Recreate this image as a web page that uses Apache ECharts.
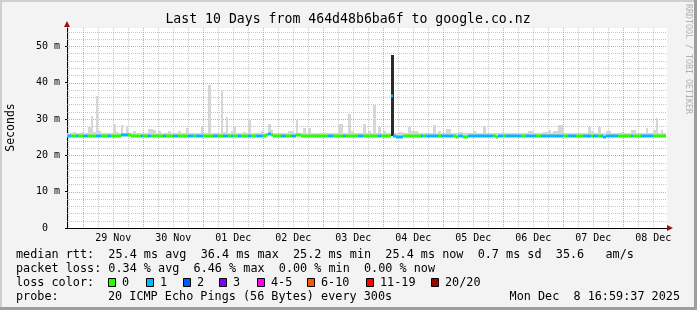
<!DOCTYPE html>
<html><head><meta charset="utf-8">
<script src="https://cdn.jsdelivr.net/npm/echarts@6/dist/echarts.min.js"></script>
<style>html,body{margin:0;padding:0;background:#f3f3f3}#c{width:697px;height:310px}</style>
</head><body><div id="c"></div>
<script>
// ---- data (hours counted from 28 Nov 00:00; one sample per hour starting 17:00) ----
const xLabels = ['29 Nov','30 Nov','01 Dec','02 Dec','03 Dec','04 Dec','05 Dec','06 Dec','07 Dec','08 Dec'];
const xLabelHours = [36,60,84,108,132,156,180,204,228,252];
const yTicks = [0,10,20,30,40,50];
const firstHour = 17;
const viewStart = 17.5, viewEnd = 257.5;

const median = [
 25.4,25.4,25.4,25.4,25.4,25.4,25.4,25.4,25.4,25.4,25.4,25.4,25.4,25.4,25.4,25.4,25.4,25.4,25.4,25.4,25.4,25.3,25.7,25.7,
 25.7,25.5,25.4,25.4,25.4,25.4,25.4,25.3,25.4,25.4,25.4,25.4,25.4,25.4,25.4,25.4,25.4,25.4,25.4,25.4,25.4,25.4,25.4,25.4,
 25.4,25.4,25.4,25.4,25.3,25.4,25.4,25.4,25.4,25.4,25.4,25.4,25.4,25.4,25.4,25.4,25.4,25.4,25.4,25.4,25.4,25.3,25.4,25.4,
 25.4,25.4,25.4,25.4,25.4,25.4,25.4,25.4,25.6,25.8,25.6,25.4,25.4,25.4,25.4,25.4,25.4,25.4,25.4,25.4,25.6,25.6,25.4,25.4,
 25.4,25.4,25.4,25.4,25.4,25.4,25.4,25.4,25.4,25.4,25.4,25.4,25.4,25.4,25.4,25.4,25.4,25.4,25.4,25.4,25.4,25.4,25.4,25.4,
 25.4,25.4,25.4,25.4,25.4,25.4,25.4,25.4,25.4,25.4,36.4,25.4,25.1,25.0,25.1,25.4,25.4,25.4,25.4,25.4,25.4,25.4,25.4,25.4,
 25.4,25.4,25.4,25.4,25.4,25.4,25.4,25.4,25.4,25.4,25.4,25.2,25.1,25.4,25.4,25.0,25.0,25.4,25.4,25.4,25.4,25.4,25.4,25.4,
 25.4,25.4,25.4,25.4,25.0,25.4,25.4,25.4,25.4,25.4,25.4,25.4,25.4,25.4,25.4,25.4,25.4,25.4,25.4,25.4,25.4,25.4,25.4,25.4,
 25.4,25.4,25.4,25.4,25.4,25.4,25.4,25.4,25.4,25.4,25.4,25.4,25.4,25.4,25.4,25.4,25.4,25.4,25.4,25.4,25.4,25.4,25.2,25.1,
 25.4,25.4,25.4,25.4,25.4,25.4,25.4,25.4,25.4,25.4,25.4,25.4,25.4,25.4,25.4,25.4,25.4,25.4,25.4,25.4,25.4,25.4,25.4,25.4
];
const smokeTop = [
 26.0,26.0,26.0,26.5,26.0,26.0,26.5,26.0,26.0,27.8,30.8,26.5,36.3,26.8,26.0,26.0,26.0,26.0,26.0,28.6,26.5,26.0,28.3,26.0,
 27.8,26.0,26.0,26.6,26.0,26.0,26.0,26.0,26.0,27.2,27.2,27.0,26.0,26.8,26.0,26.0,26.0,26.8,26.0,26.0,26.0,26.6,26.0,26.0,
 27.5,26.0,26.0,26.0,26.0,26.0,28.0,26.0,26.0,39.3,26.0,26.0,26.0,26.0,37.6,26.5,30.6,26.0,26.6,27.8,26.0,26.0,26.0,26.5,
 26.0,29.7,26.0,26.0,26.0,26.0,26.6,26.0,26.0,28.6,27.0,26.0,26.0,26.0,26.0,26.0,26.0,26.8,26.8,26.0,29.7,26.0,26.0,27.5,
 26.0,27.5,26.0,26.0,26.0,26.0,26.0,26.2,26.0,26.0,26.0,26.0,26.0,28.5,28.5,26.0,26.0,31.3,26.8,26.0,26.0,26.0,26.0,28.7,
 26.0,26.8,26.0,33.8,26.0,27.8,26.0,26.8,26.0,26.0,47.5,26.0,26.0,26.3,26.3,26.0,26.0,27.8,26.8,26.8,26.8,26.0,26.0,26.2,
 26.0,26.0,26.0,28.3,26.0,26.6,26.0,26.0,27.2,27.2,26.0,26.0,26.2,26.5,26.5,26.0,26.0,26.0,26.0,26.8,26.0,26.0,26.0,28.0,
 26.0,26.0,26.0,26.0,26.0,26.0,26.0,26.0,26.0,26.0,26.0,26.0,26.0,26.2,26.0,26.0,26.0,26.6,26.6,26.0,26.0,26.0,26.0,26.5,
 26.5,27.0,26.0,26.8,26.8,28.3,28.3,26.0,26.0,26.0,26.0,26.0,26.0,26.0,26.0,26.0,26.0,27.8,26.8,26.0,26.0,27.8,26.0,26.0,
 26.8,26.8,26.0,26.0,26.0,26.0,26.5,26.0,26.0,26.0,27.0,27.0,26.0,26.0,26.0,26.0,27.5,26.0,26.0,27.0,30.3,26.0,27.0,26.0
];
const loss = [
 0,1,0,0,1,0,0,1,1,0,0,0,1,1,0,0,0,1,0,0,0,0,1,1,
 1,0,0,0,0,0,1,0,0,1,0,0,0,0,0,1,0,0,0,1,1,0,0,0,
 0,1,1,0,1,1,1,0,0,0,0,1,1,0,0,1,1,0,1,0,0,1,0,0,
 0,1,0,0,1,1,1,0,0,1,0,0,0,0,1,1,0,0,1,1,0,0,0,0,
 0,0,0,0,0,0,0,0,0,1,1,0,0,0,0,1,0,0,0,0,0,1,1,0,
 0,0,0,0,0,1,0,0,0,0,1,1,1,1,1,0,0,0,0,0,0,0,1,0,
 1,1,1,1,1,0,1,1,1,1,1,0,0,1,1,0,0,1,1,1,1,1,1,1,
 1,1,1,0,0,1,1,0,1,1,1,1,1,1,0,0,1,1,1,1,0,0,1,1,
 1,1,1,1,1,1,1,0,0,1,1,1,0,0,0,1,1,1,0,1,1,0,1,1,
 1,1,1,1,1,0,0,0,0,0,1,0,0,0,1,1,1,1,1,0,0,0,0,0
];
const darkIdx = [130];
const darkBase = [25.3];
const darkTop = [47.5];

const lossColors = ['#26ff00','#00b8ff','#0059ff','#7e00ff','#ff00ff','#ff5500','#ff0000','#a10000'];
const lossLabels = ['0','1','2','3','4-5','6-10','11-19','20/20'];

const statsRow1 = 'median rtt:  25.4 ms avg  36.4 ms max  25.2 ms min  25.4 ms now  0.7 ms sd  35.6   am/s';
const statsRow2 = 'packet loss: 0.34 % avg  6.46 % max  0.00 % min  0.00 % now';
const probeText = '20 ICMP Echo Pings (56 Bytes) every 300s';
const stampText = 'Mon Dec  8 16:59:37 2025';
const titleText = 'Last 10 Days from 464d48b6ba6f to google.co.nz';

// ---- chart ----
const MONO = "'DejaVu Sans Mono', monospace";
const chart = echarts.init(document.getElementById('c'), null, {renderer: 'canvas'});

const gridLines = [];
for (let h = 18; h <= 257; h += 6) gridLines.push([0, h, h % 24 === 0 ? 1 : 0]);
for (let v = 2; v <= 54; v += 2) gridLines.push([1, v, v % 10 === 0 ? 1 : 0]);
gridLines.sort((a, b) => a[2] - b[2]);

const smokeData = median.map((m, i) => [firstHour + i, m, smokeTop[i]]);
const medData = median.map((m, i) => [firstHour + i, m, loss[i]]);
const darkData = darkIdx.map((k, j) => [firstHour + k, darkBase[j], darkTop[j]]);

function clip(r, cs) { return echarts.graphic.clipRectByRect(r, cs); }

const graphics = [];
graphics.push({type:'rect', shape:{x:0,y:0,width:697,height:2}, style:{fill:'#cfcfcf'}, silent:true});
graphics.push({type:'rect', shape:{x:0,y:0,width:2,height:310}, style:{fill:'#cfcfcf'}, silent:true});
graphics.push({type:'rect', shape:{x:0,y:307,width:697,height:3}, style:{fill:'#9e9e9e'}, silent:true});
graphics.push({type:'rect', shape:{x:694,y:0,width:3,height:310}, style:{fill:'#9e9e9e'}, silent:true});
graphics.push({type:'text', x:348, y:19.5, style:{text:titleText, font:"13.2px "+MONO, fill:'#000', align:'center', verticalAlign:'middle'}});
graphics.push({type:'text', x:11, y:127.5, rotation:Math.PI/2, style:{text:'Seconds', font:"11.5px "+MONO, fill:'#000', align:'center', verticalAlign:'middle'}});
graphics.push({type:'text', x:688, y:4, rotation:-Math.PI/2, style:{text:'RRDTOOL / TOBI OETIKER', font:"8.3px "+MONO, fill:'#b0b0b0', align:'left', verticalAlign:'middle'}});
graphics.push({type:'polygon', shape:{points:[[64,27],[70,27],[67,21]]}, style:{fill:'#a01010'}, z:10});
graphics.push({type:'polygon', shape:{points:[[667,225],[667,231],[673,228]]}, style:{fill:'#a01010'}, z:10});
graphics.push({type:'line', shape:{x1:667,y1:228.5,x2:668,y2:228.5}, style:{stroke:'#000',lineWidth:1}, z:9});
const FS = "11.8px " + MONO;
const rowY = [254.5, 268.5, 282.5, 296.5];
graphics.push({type:'text', x:16, y:rowY[0], style:{text:statsRow1, font:FS, fill:'#000', verticalAlign:'middle'}});
graphics.push({type:'text', x:16, y:rowY[1], style:{text:statsRow2, font:FS, fill:'#000', verticalAlign:'middle'}});
graphics.push({type:'text', x:16, y:rowY[2], style:{text:'loss color:', font:FS, fill:'#000', verticalAlign:'middle'}});
const boxX = [108, 146, 183, 219, 257, 307, 366, 431];
lossLabels.forEach((t, k) => {
  graphics.push({type:'rect', shape:{x:boxX[k]+0.5, y:278.5, width:7, height:8}, style:{fill:lossColors[k], stroke:'#000', lineWidth:1}});
  graphics.push({type:'text', x:boxX[k]+14, y:rowY[2], style:{text:t, font:FS, fill:'#000', verticalAlign:'middle'}});
});
graphics.push({type:'text', x:16, y:rowY[3], style:{text:'probe:', font:FS, fill:'#000', verticalAlign:'middle'}});
graphics.push({type:'text', x:108, y:rowY[3], style:{text:probeText, font:FS, fill:'#000', verticalAlign:'middle'}});
graphics.push({type:'text', x:680, y:rowY[3], style:{text:stampText, font:FS, fill:'#000', align:'right', verticalAlign:'middle'}});

chart.setOption({
  animation: false,
  backgroundColor: '#f3f3f3',
  grid: {left: 67, top: 28, width: 600, height: 200, show: true, backgroundColor: '#ffffff', borderWidth: 0},
  xAxis: {
    type: 'value', min: viewStart, max: viewEnd,
    axisLine: {show: true, onZero: false, lineStyle: {color: '#000', width: 1}},
    axisTick: {show: false},
    splitLine: {show: false},
    axisLabel: {customValues: xLabelHours, formatter: v => xLabels[xLabelHours.indexOf(v)] || '',
      fontFamily: 'DejaVu Sans Mono', fontSize: 10, color: '#000', margin: 5}
  },
  yAxis: {
    type: 'value', min: 0, max: 55,
    axisLine: {show: true, lineStyle: {color: '#000', width: 1}},
    axisTick: {show: true, customValues: yTicks, length: 2, lineStyle: {color: '#000'}},
    splitLine: {show: false},
    axisLabel: {customValues: yTicks, formatter: v => v === 0 ? '0  ' : v + ' m',
      fontFamily: 'DejaVu Sans Mono', fontSize: 10, color: '#000', margin: 7}
  },
  graphic: graphics,
  series: [
    {
      type: 'custom', name: 'grid', silent: true, z: 1,
      data: gridLines,
      encode: {x: 1, y: 1},
      renderItem(params, api) {
        const cs = params.coordSys;
        const kind = api.value(0), val = api.value(1), major = api.value(2);
        const color = major ? 'rgba(232,120,120,0.75)' : 'rgba(170,170,170,0.65)';
        if (kind === 0) {
          const x = Math.round(api.coord([val, 0])[0]) + 0.5;
          return {type: 'line', shape: {x1: x, y1: cs.y, x2: x, y2: cs.y + cs.height}, style: {stroke: color, lineWidth: 1, lineDash: [1, 1]}};
        }
        const y = Math.round(api.coord([viewStart, val])[1]) + 0.5;
        return {type: 'line', shape: {x1: cs.x, y1: y, x2: cs.x + cs.width, y2: y}, style: {stroke: color, lineWidth: 1, lineDash: [1, 1]}};
      }
    },
    {
      type: 'custom', name: 'smoke', silent: true, z: 2,
      data: smokeData,
      renderItem(params, api) {
        const h = api.value(0), m = api.value(1), t = api.value(2);
        const a = api.coord([h, t]), b = api.coord([h + 1, m]);
        const x0 = Math.round(a[0]), x1 = Math.round(b[0]);
        const r = clip({x: x0, y: Math.round(a[1]), width: x1 - x0, height: Math.round(b[1]) - Math.round(a[1])}, params.coordSys);
        return r ? {type: 'rect', shape: r, style: {fill: '#d6d6d6'}} : null;
      }
    },
    {
      type: 'custom', name: 'darksmoke', silent: true, z: 3,
      data: darkData,
      renderItem(params, api) {
        const h = api.value(0), lo = api.value(1), t = api.value(2);
        const a = api.coord([h, t]), b = api.coord([h + 1, lo]);
        const x0 = Math.round(a[0]);
        return {type: 'rect', shape: {x: x0, y: Math.round(a[1]), width: 3, height: Math.round(b[1]) - Math.round(a[1])}, style: {fill: '#2a2a2a'}};
      }
    },
    {
      type: 'custom', name: 'median', silent: true, z: 4,
      data: medData,
      renderItem(params, api) {
        const h = api.value(0), m = api.value(1), l = api.value(2);
        const a = api.coord([h, m]), b = api.coord([h + 1, m]);
        const x0 = Math.round(a[0]), x1 = Math.round(b[0]);
        const r = clip({x: x0, y: Math.round(a[1]) - 1.5, width: x1 - x0, height: 3}, params.coordSys);
        return r ? {type: 'rect', shape: r, style: {fill: lossColors[l]}} : null;
      }
    }
  ]
});
</script>
</body></html>
